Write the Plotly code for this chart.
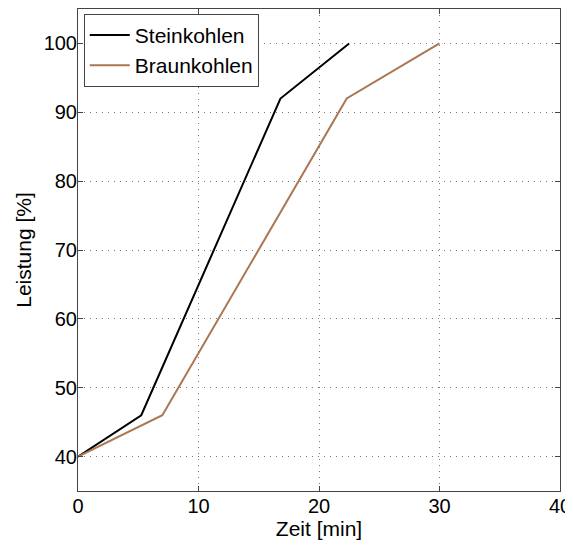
import plotly.graph_objects as go

stein_x = [0, 5.25, 16.8, 22.5]
stein_y = [40, 46, 92, 100]
braun_x = [0, 7, 22.3, 30]
braun_y = [40, 46, 92, 100]
x_ticks = [0, 10, 20, 30, 40]
y_ticks = [40, 50, 60, 70, 80, 90, 100]

font = "Liberation Sans, Arial, sans-serif"

fig = go.Figure()
fig.add_trace(go.Scatter(x=stein_x, y=stein_y, mode="lines", name="Steinkohlen",
                         line=dict(color="black", width=2)))
fig.add_trace(go.Scatter(x=braun_x, y=braun_y, mode="lines", name="Braunkohlen",
                         line=dict(color="#ab7652", width=2)))

axis_common = dict(
    showgrid=True, gridcolor="#7a7a7a", griddash="1px,5px", gridwidth=1,
    showline=True, linecolor="#444444", linewidth=1, mirror="allticks",
    ticks="inside", ticklen=5, tickcolor="#444444", zeroline=False,
    automargin=False,
    tickfont=dict(family=font, size=20, color="black"),
)
fig.update_xaxes(range=[0, 40], tickvals=x_ticks, ticklabelstandoff=-3,
                 title=dict(text="Zeit [min]", font=dict(family=font, size=21, color="black"), standoff=0),
                 **axis_common)
fig.update_yaxes(range=[35, 105], tickvals=y_ticks, ticklabelstandoff=-4,
                 title=dict(text="Leistung [%]", font=dict(family=font, size=21, color="black"), standoff=6),
                 **axis_common)

# page body has an 8px margin; compensate so the plot area lands where the reference has it
fig.update_layout(
    width=565, height=537,
    margin=dict(l=70, r=13, t=1, b=54),
    paper_bgcolor="white", plot_bgcolor="white",
    showlegend=True,
    legend=dict(x=0.012, y=0.99, xanchor="left", yanchor="top",
                bgcolor="white", bordercolor="#444444", borderwidth=1,
                font=dict(family=font, size=21, color="black"),
                tracegroupgap=0, itemwidth=40),
)
fig.write_html("out.html")
